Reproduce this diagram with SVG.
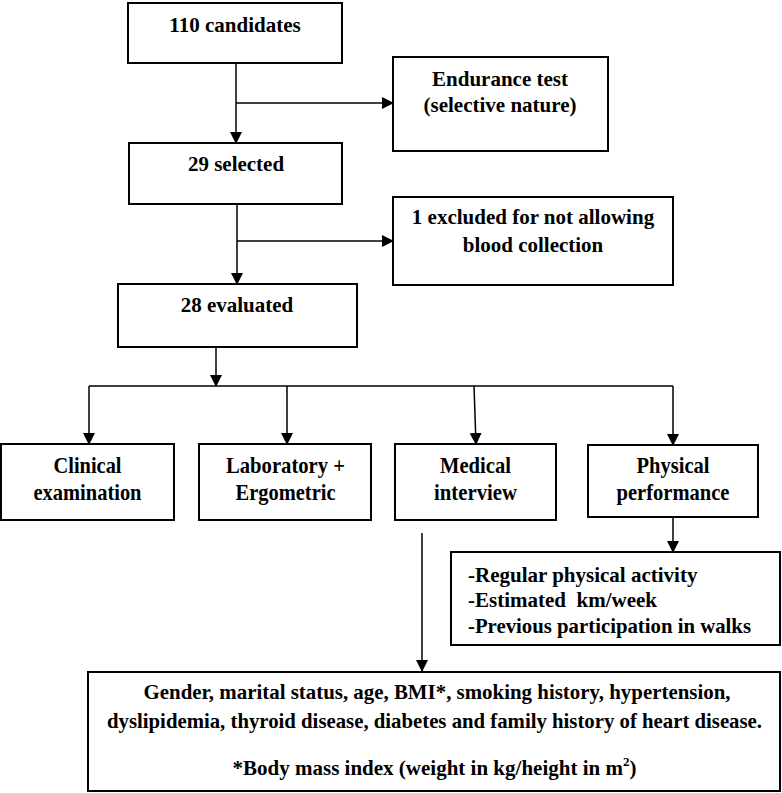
<svg xmlns="http://www.w3.org/2000/svg" width="782" height="793" viewBox="0 0 782 793">
<style>
.box{fill:#fff;stroke:#000;stroke-width:2}
.t{font-family:'Liberation Serif','Tinos','DejaVu Serif','Noto Serif',serif;font-weight:bold;font-size:21px;fill:#000}
.c{text-anchor:middle}
.n{font-size:23px}
.ln{stroke:#000;stroke-width:1.5;fill:none}
</style>
<defs>
<marker id="ah" markerWidth="12" markerHeight="12" refX="11" refY="6" orient="auto" markerUnits="userSpaceOnUse">
<path d="M0,0 L12,6 L0,12 z" fill="#000"/>
</marker>
</defs>
<rect width="782" height="793" fill="#fff"/>
<g id="connectors">
<line class="ln" x1="236" y1="63" x2="236" y2="143" marker-end="url(#ah)"/>
<line class="ln" x1="236" y1="103" x2="393" y2="103" marker-end="url(#ah)"/>
<line class="ln" x1="237" y1="204" x2="237" y2="284" marker-end="url(#ah)"/>
<line class="ln" x1="237" y1="241" x2="393" y2="241" marker-end="url(#ah)"/>
<line class="ln" x1="216" y1="347" x2="216" y2="386" marker-end="url(#ah)"/>
<line class="ln" x1="89" y1="386" x2="673" y2="386"/>
<line class="ln" x1="89" y1="386" x2="89" y2="444" marker-end="url(#ah)"/>
<line class="ln" x1="287" y1="386" x2="287" y2="444" marker-end="url(#ah)"/>
<line class="ln" x1="474" y1="386" x2="476" y2="444" marker-end="url(#ah)"/>
<line class="ln" x1="673" y1="386" x2="673" y2="445" marker-end="url(#ah)"/>
<line class="ln" x1="673" y1="517" x2="673" y2="552" marker-end="url(#ah)"/>
<line class="ln" x1="422" y1="533" x2="422" y2="671" marker-end="url(#ah)"/>
</g>
<g id="n1">
<rect class="box" x="128" y="3" width="214" height="60"/>
<text class="t c" x="235" y="32" font-family="Liberation Serif, serif">110 candidates</text>
</g>
<g id="n2">
<rect class="box" x="393" y="57" width="215" height="94"/>
<text class="t c" x="500" y="86">Endurance test</text>
<text class="t c" x="500" y="112">(selective nature)</text>
</g>
<g id="n3">
<rect class="box" x="129" y="143" width="213" height="61"/>
<text class="t c" x="236" y="171">29 selected</text>
</g>
<g id="n4">
<rect class="box" x="393" y="197" width="280" height="88"/>
<text class="t c" x="533" y="224">1 excluded for not allowing</text>
<text class="t c" x="533" y="252">blood collection</text>
</g>
<g id="n5">
<rect class="box" x="118" y="284" width="239" height="63"/>
<text class="t c" x="237" y="312">28 evaluated</text>
</g>
<g id="n6">
<rect class="box" x="1" y="444" width="173" height="76"/>
<text class="t n c" x="87.5" y="473" textLength="68" lengthAdjust="spacingAndGlyphs">Clinical</text>
<text class="t n c" x="87.5" y="500" textLength="108" lengthAdjust="spacingAndGlyphs">examination</text>
</g>
<g id="n7">
<rect class="box" x="199" y="444" width="172" height="76"/>
<text class="t n c" x="285.5" y="473" textLength="119" lengthAdjust="spacingAndGlyphs">Laboratory +</text>
<text class="t n c" x="285.5" y="500" textLength="100" lengthAdjust="spacingAndGlyphs">Ergometric</text>
</g>
<g id="n8">
<rect class="box" x="395" y="444" width="161" height="76"/>
<text class="t n c" x="475.5" y="473" textLength="71" lengthAdjust="spacingAndGlyphs">Medical</text>
<text class="t n c" x="475.5" y="500" textLength="83" lengthAdjust="spacingAndGlyphs">interview</text>
</g>
<g id="n9">
<rect class="box" x="588" y="445" width="170" height="72"/>
<text class="t n c" x="673" y="473" textLength="73" lengthAdjust="spacingAndGlyphs">Physical</text>
<text class="t n c" x="673" y="500" textLength="113" lengthAdjust="spacingAndGlyphs">performance</text>
</g>
<g id="n10">
<rect class="box" x="451" y="552" width="329" height="93"/>
<text class="t" x="468" y="582">-Regular physical activity</text>
<text class="t" x="468" y="607" xml:space="preserve">-Estimated  km/week</text>
<text class="t" x="468" y="633" textLength="283" lengthAdjust="spacingAndGlyphs">-Previous participation in walks</text>
</g>
<g id="n11">
<rect class="box" x="88" y="672" width="692" height="119"/>
<text class="t c" x="437" y="699" textLength="587" lengthAdjust="spacingAndGlyphs">Gender, marital status, age, BMI*, smoking history, hypertension,</text>
<text class="t c" x="434.5" y="728" textLength="655" lengthAdjust="spacingAndGlyphs">dyslipidemia, thyroid disease, diabetes and family history of heart disease.</text>
<text class="t c" x="434.5" y="775">*Body mass index (weight in kg/height in m<tspan font-size="13" dy="-9">2</tspan><tspan dy="9">)</tspan></text>
</g>
</svg>
